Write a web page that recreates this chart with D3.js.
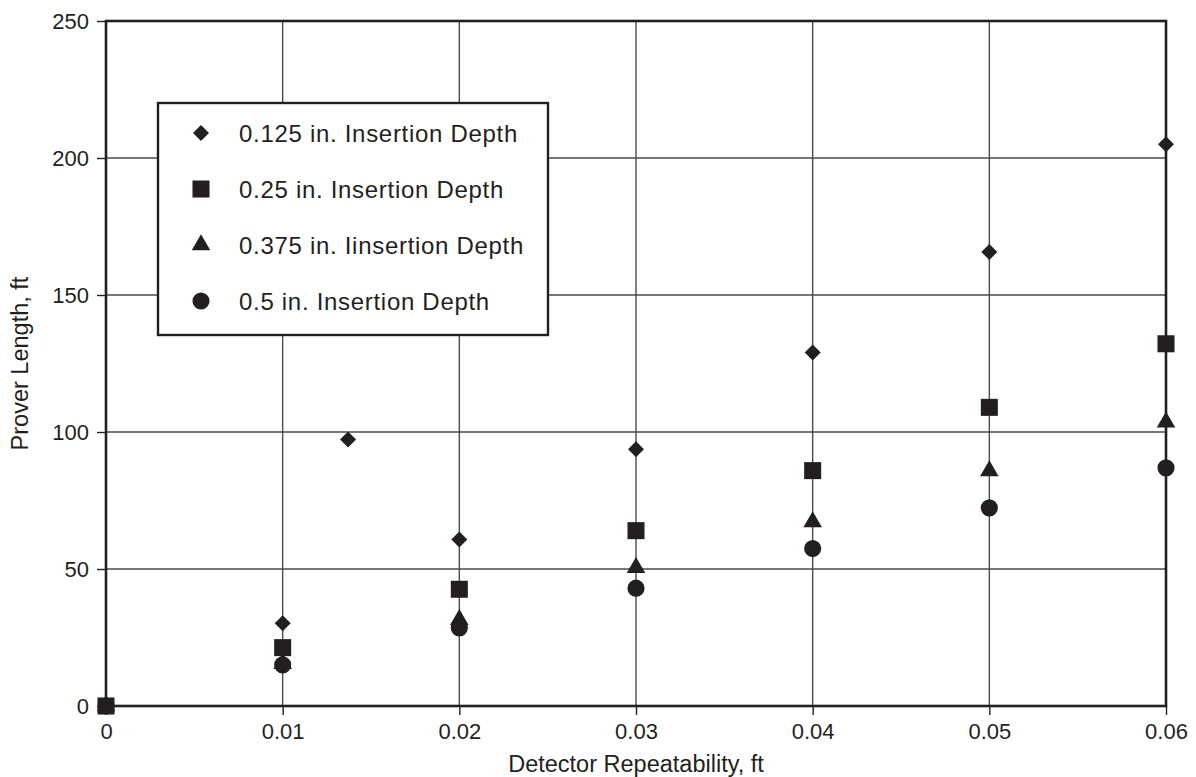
<!DOCTYPE html>
<html>
<head>
<meta charset="utf-8">
<script src="https://cdn.jsdelivr.net/npm/d3@7"></script>
<style>
  body { margin: 0; background: #fff; }
  text { font-family: "Liberation Sans", Arial, sans-serif; fill: #231f20; }
</style>
</head>
<body>
<div id="chart"></div>
<script>
// data
const seriesNames = [
  "0.125 in. Insertion Depth",
  "0.25 in. Insertion Depth",
  "0.375 in. Iinsertion Depth",
  "0.5 in. Insertion Depth"
]
const seriesShapes = ["diamond", "square", "triangle", "circle"]

const diamondX = [0, 0.01, 0.0137, 0.02, 0.03, 0.04, 0.05, 0.06]
const diamondY = [0, 30.2, 97.3, 60.8, 93.7, 129, 165.7, 205]
const squareX = [0, 0.01, 0.02, 0.03, 0.04, 0.05, 0.06]
const squareY = [0, 21.3, 42.6, 64, 85.9, 109, 132.2]
const triangleX = [0, 0.01, 0.02, 0.03, 0.04, 0.05, 0.06]
const triangleY = [0, 15.5, 31.5, 50.5, 67.2, 85.8, 103.6]
const circleX = [0, 0.01, 0.02, 0.03, 0.04, 0.05, 0.06]
const circleY = [0, 15, 28.5, 43, 57.5, 72.3, 86.9]

const xTicks = [0, 0.01, 0.02, 0.03, 0.04, 0.05, 0.06]
const yTicks = [0, 50, 100, 150, 200, 250]

const ink = "#231f20"
const W = 1196, H = 777
const margin = { left: 106, right: 30, top: 21, bottom: 71 }

const svg = d3.select("#chart")
  .append("svg")
    .attr("width", W)
    .attr("height", H)

const x = d3.scaleLinear().domain([0, 0.06]).range([margin.left, W - margin.right])
const y = d3.scaleLinear().domain([0, 250]).range([H - margin.bottom, margin.top])

// grid
svg.append("g")
  .selectAll("line")
  .data(xTicks)
  .enter()
  .append("line")
    .attr("x1", d => x(d)).attr("x2", d => x(d))
    .attr("y1", y(0)).attr("y2", y(250))
    .style("stroke", "#4a4a4a")
    .style("stroke-width", 1.4)

svg.append("g")
  .selectAll("line")
  .data(yTicks)
  .enter()
  .append("line")
    .attr("x1", x(0)).attr("x2", x(0.06))
    .attr("y1", d => y(d)).attr("y2", d => y(d))
    .style("stroke", "#4a4a4a")
    .style("stroke-width", 1.4)

// axes
const xAxis = svg.append("g")
  .attr("transform", `translate(0,${y(0)})`)
  .call(d3.axisBottom(x).tickValues(xTicks).tickSize(9).tickPadding(8).tickFormat(d => d === 0 ? "0" : d3.format(".2f")(d)))
const yAxis = svg.append("g")
  .attr("transform", `translate(${x(0)},0)`)
  .call(d3.axisLeft(y).tickValues(yTicks).tickSize(9).tickPadding(8))

;[xAxis, yAxis].forEach(g => {
  g.select(".domain").remove()
  g.selectAll("line").style("stroke", ink).style("stroke-width", 1.4)
  g.selectAll("text").style("font-size", "22px").style("fill", ink)
    .style("font-family", "'Liberation Sans', Arial, sans-serif")
})

// frame
svg.append("rect")
  .attr("x", x(0)).attr("y", y(250))
  .attr("width", x(0.06) - x(0))
  .attr("height", y(0) - y(250))
  .style("fill", "none")
  .style("stroke", ink)
  .style("stroke-width", 2.6)

// axis titles
svg.append("text")
  .attr("x", (x(0) + x(0.06)) / 2)
  .attr("y", 772)
  .attr("text-anchor", "middle")
  .style("font-size", "23.5px")
  .text("Detector Repeatability, ft")

svg.append("text")
  .attr("transform", `translate(28,${(y(0) + y(250)) / 2}) rotate(-90)`)
  .attr("text-anchor", "middle")
  .style("font-size", "23.5px")
  .text("Prover Length, ft")

// markers
const symbolFor = {
  diamond: d3.symbol().type(d3.symbolSquare).size(128),
  square: d3.symbol().type(d3.symbolSquare).size(290),
  triangle: d3.symbol().type(d3.symbolTriangle).size(150),
  circle: d3.symbol().type(d3.symbolCircle).size(230)
}
const rotFor = { diamond: 45, square: 0, triangle: 0, circle: 0 }

const series = [
  { shape: "diamond", xs: diamondX, ys: diamondY },
  { shape: "square", xs: squareX, ys: squareY },
  { shape: "triangle", xs: triangleX, ys: triangleY },
  { shape: "circle", xs: circleX, ys: circleY }
]

series.forEach(s => {
  svg.append("g")
    .selectAll("path")
    .data(s.xs.map((v, i) => [v, s.ys[i]]))
    .enter()
    .append("path")
      .attr("d", symbolFor[s.shape]())
      .attr("transform", d => `translate(${x(d[0])},${y(d[1])}) rotate(${rotFor[s.shape]})`)
      .style("fill", ink)
})

// legend
const legend = svg.append("g").attr("transform", "translate(158,103)")
legend.append("rect")
  .attr("width", 390).attr("height", 232)
  .style("fill", "#fff")
  .style("stroke", ink)
  .style("stroke-width", 2.4)

seriesNames.forEach((name, i) => {
  const cy = 30 + i * 56
  const sh = seriesShapes[i]
  legend.append("path")
    .attr("d", symbolFor[sh]())
    .attr("transform", `translate(43,${cy}) rotate(${rotFor[sh]})`)
    .style("fill", ink)
  legend.append("text")
    .attr("x", 81).attr("y", cy + 9)
    .style("font-size", "24px")
    .style("letter-spacing", "0.7px")
    .text(name)
})
</script>
</body>
</html>
